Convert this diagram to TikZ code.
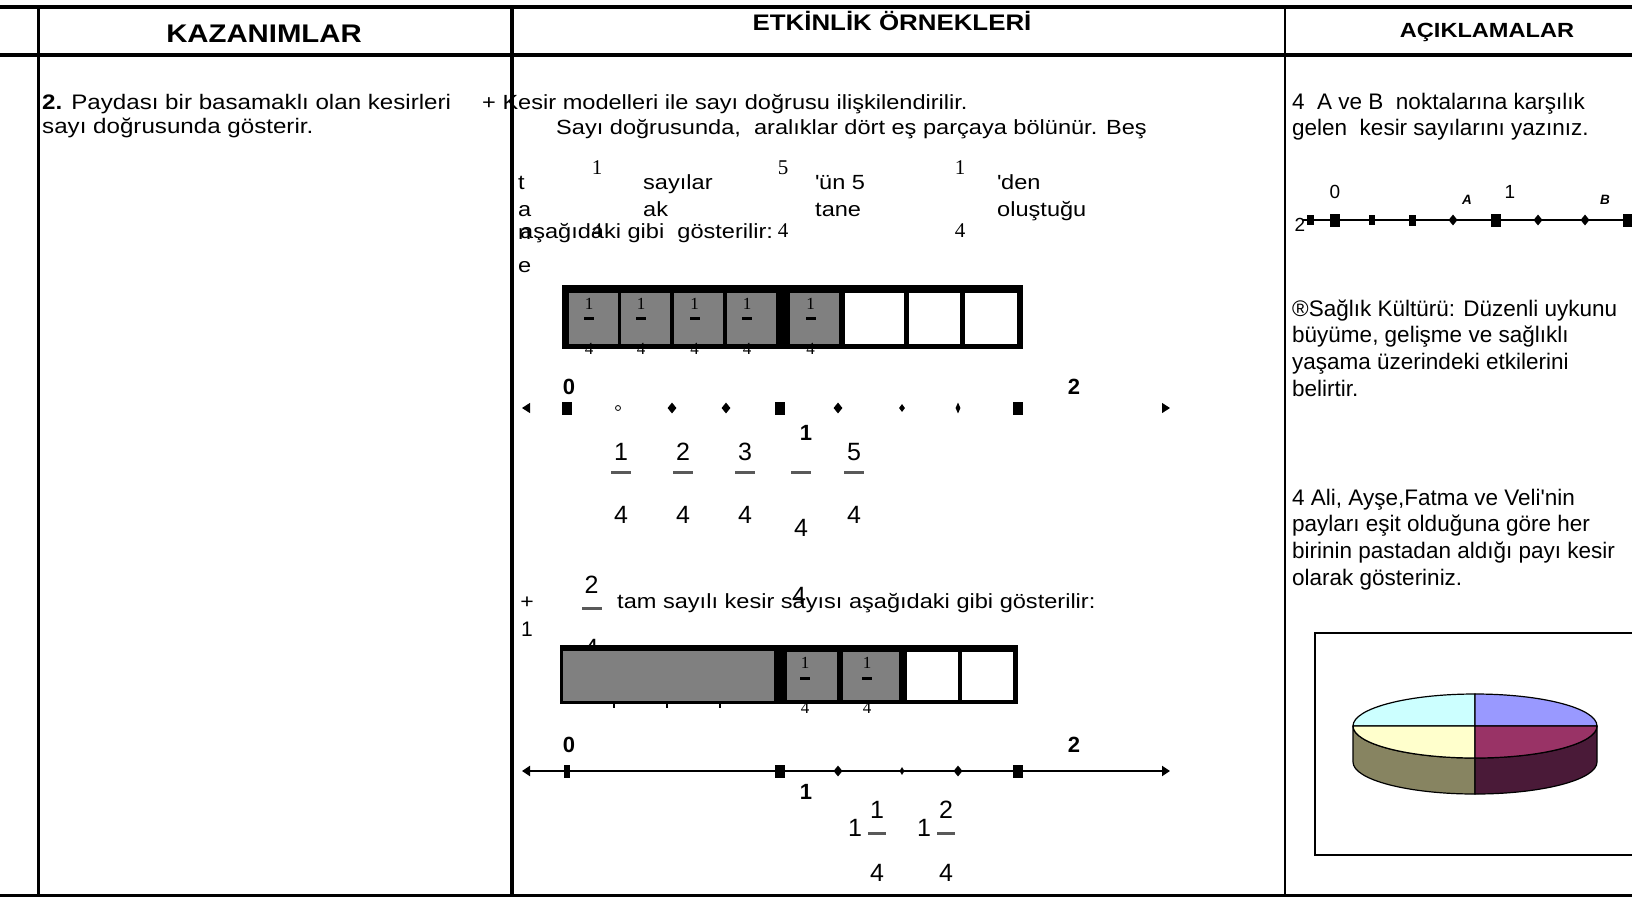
\documentclass[tikz,border=0pt]{standalone}
\usepackage{fontspec}
\setmainfont{Liberation Sans}
\newfontfamily\wfont[FakeStretch=1.15]{Liberation Sans}
\newfontfamily\serfont{Liberation Serif}
\usetikzlibrary{positioning, arrows.meta, shapes.geometric}

\definecolor{pieCyan}{HTML}{CCFFFF}
\definecolor{pieLilac}{HTML}{9999FF}
\definecolor{pieCream}{HTML}{FFFFCC}
\definecolor{pieWine}{HTML}{993366}
\definecolor{pieOlive}{HTML}{878461}
\definecolor{pieDark}{HTML}{4A1A38}

\begin{document}
\begin{tikzpicture} [
      x=1pt, y=-1pt,
      hdr/.style={anchor=base, inner sep=0},
      txt/.style={anchor=base west, inner sep=0, font=\wfont\fontsize{20.5}{24}\selectfont},
      rtxt/.style={anchor=base west, inner sep=0, font=\fontsize{22.5}{26}\selectfont},
      digit/.style={inner sep=0, font=\fontsize{25}{28}\selectfont},
      lbl/.style={inner sep=0, font=\bfseries\fontsize{22}{24}\selectfont},
      serdigit/.style={inner sep=0, font=\serfont\fontsize{21}{24}\selectfont},
      celldigit/.style={inner sep=0, font=\serfont\fontsize{17}{19}\selectfont},
      fbar/.style={fill=black!65, minimum width=20pt, minimum height=3pt, inner sep=0},
      sbar/.style={fill=black, minimum width=10pt, minimum height=3pt, inner sep=0},
      cell/.style={fill=gray, minimum width=49pt, minimum height=51pt, inner sep=0},
      blank/.style={cell, fill=white},
      bigmark/.style={fill, rectangle, minimum width=10pt, minimum height=13pt, inner sep=0},
      dotmark/.style={fill, diamond, minimum width=9pt, minimum height=11pt, inner sep=0},
      openmark/.style={draw, thick, circle, minimum size=5pt, inner sep=0},
      nlarrows/.style={arrows={Triangle[length=8pt, width=10pt, color=black, fill=black]-Triangle[length=8pt, width=10pt, color=black, fill=black]}}
   ]
    \useasboundingbox (0,0) rectangle (1632,898);

    % table
    \draw[line width=4pt] (0,7) -- (1632,7);
    \draw[line width=4.5pt] (0,55) -- (1632,55);
    \draw[line width=3pt] (0,895) -- (1632,895);
    \draw[line width=3pt] (38,7) -- (38,895);
    \draw[line width=4.5pt] (512,7) -- (512,895);
    \draw[line width=2.5pt] (1285,7) -- (1285,895);

    \node[hdr, font=\wfont\bfseries\fontsize{25.5}{28}\selectfont] (hKaz) at (264,42) {KAZANIMLAR};
    \node[hdr, font=\wfont\bfseries\fontsize{22.5}{24}\selectfont] (hEtk) at (892,30) {ETKİNLİK ÖRNEKLERİ};
    \node[hdr, font=\wfont\bfseries\fontsize{20.5}{24}\selectfont] (hAcik) at (1487,37) {AÇIKLAMALAR};

    % kazanim
    \node[txt, font=\wfont\fontsize{21}{24}\selectfont] (kaz1) at (42,109) {\textbf{2.} Paydası bir basamaklı olan kesirleri};
    \node[txt, font=\wfont\fontsize{21}{24}\selectfont] (kaz2) at (42,133) {sayı doğrusunda gösterir.};

    % etkinlik text
    \node[txt] (etk1) at (482,109) {+ Kesir modelleri ile sayı doğrusu ilişkilendirilir.};
    \node[txt] (etk2) at (556,134) {Sayı doğrusunda,~ aralıklar dört eş parçaya bölünür. Beş};
    \node[txt] (wT) at (518,189) {t};
    \node[txt] (wA) at (518,216) {a};
    \node[txt] (wN) at (518,239) {n};
    \node[txt] (wE) at (518,272) {e};
    \node[txt] (w2a) at (643,189) {sayılar};
    \node[txt] (w2b) at (643,216) {ak};
    \node[txt] (w3a) at (815,189) {\textquotesingle ün 5};
    \node[txt] (w3b) at (815,216) {tane};
    \node[txt] (w4a) at (997,189) {\textquotesingle den};
    \node[txt] (w4b) at (997,216) {oluştuğu};
    \node[txt] (w5) at (520,238) {aşağıdaki gibi~ gösterilir:};
    \node[serdigit] (q1n) at (597,168) {1};
    \node[serdigit, below of=q1n, node distance=63pt] (q1d) {4};
    \node[serdigit] (q2n) at (783,168) {5};
    \node[serdigit, below of=q2n, node distance=63pt] (q2d) {4};
    \node[serdigit] (q3n) at (960,168) {1};
    \node[serdigit, below of=q3n, node distance=63pt] (q3d) {4};

    % first model
    \fill (562,285) rectangle (1023,349);
    \node[cell] (c1) at (593,318.5) {};
    \node[cell, right of=c1, node distance=52pt] (c2) {};
    \node[cell, right of=c2, node distance=53.5pt] (c3) {};
    \node[cell, right of=c3, node distance=52.5pt] (c4) {};
    \node[cell, right of=c4, node distance=63.5pt] (c5) {};
    \node[blank, right of=c5, node distance=60pt, minimum width=59pt] (c6) {};
    \node[blank, right of=c6, node distance=59.5pt, minimum width=51pt] (c7) {};
    \node[blank, right of=c7, node distance=57pt, minimum width=52pt] (c8) {};

    \node[sbar, xshift=-4pt] (s1) at (c1) {};
    \node[celldigit, above of=s1, node distance=15pt] (s1n) {1};
    \node[celldigit, below of=s1, node distance=30pt] (s1d) {4};
    \node[sbar, xshift=-4pt] (s2) at (c2) {};
    \node[celldigit, above of=s2, node distance=15pt] (s2n) {1};
    \node[celldigit, below of=s2, node distance=30pt] (s2d) {4};
    \node[sbar, xshift=-4pt] (s3) at (c3) {};
    \node[celldigit, above of=s3, node distance=15pt] (s3n) {1};
    \node[celldigit, below of=s3, node distance=30pt] (s3d) {4};
    \node[sbar, xshift=-4pt] (s4) at (c4) {};
    \node[celldigit, above of=s4, node distance=15pt] (s4n) {1};
    \node[celldigit, below of=s4, node distance=30pt] (s4d) {4};
    \node[sbar, xshift=-4pt] (s5) at (c5) {};
    \node[celldigit, above of=s5, node distance=15pt] (s5n) {1};
    \node[celldigit, below of=s5, node distance=30pt] (s5d) {4};

    % first number line
    \coordinate (l1a) at (522,408);
    \coordinate (l1b) at (1170,408);
    \draw[white, line width=1pt, nlarrows] (l1a) -- (l1b);
    \node[bigmark] (m0) at (567,408) {};
    \node[openmark, right of=m0, node distance=51pt] (m1) {};
    \node[dotmark, right of=m1, node distance=54pt] (m2) {};
    \node[dotmark, right of=m2, node distance=54pt] (m3) {};
    \node[bigmark, right of=m3, node distance=54pt] (m4) {};
    \node[dotmark, right of=m4, node distance=58pt] (m5) {};
    \node[dotmark, right of=m5, node distance=64pt, minimum width=6pt, minimum height=8pt] (m6) {};
    \node[dotmark, right of=m6, node distance=56pt, minimum width=5pt] (m7) {};
    \node[bigmark, right of=m7, node distance=60pt] (m8) {};
    \node[lbl] (z0) at (569,387) {0};
    \node[lbl] (z2) at (1074,387) {2};
    \node[lbl] (z1) at (806,433) {1};

    \node[digit] (f1n) at (621,452) {1};
    \node[fbar, below of=f1n, node distance=20pt] (f1b) {};
    \node[digit, below of=f1b, node distance=43pt] (f1d) {4};
    \node[digit] (f2n) at (683,452) {2};
    \node[fbar, below of=f2n, node distance=20pt] (f2b) {};
    \node[digit, below of=f2b, node distance=43pt] (f2d) {4};
    \node[digit] (f3n) at (745,452) {3};
    \node[fbar, below of=f3n, node distance=20pt] (f3b) {};
    \node[digit, below of=f3b, node distance=43pt] (f3d) {4};
    \node[fbar] (f4b) at (801,472) {};
    \node[digit, below of=f4b, node distance=56pt] (f4d) {4};
    \node[digit] (f5n) at (854,452) {5};
    \node[fbar, below of=f5n, node distance=20pt] (f5b) {};
    \node[digit, below of=f5b, node distance=43pt] (f5d) {4};

    % mixed number
    \node[inner sep=0, font=\wfont\fontsize{20}{24}\selectfont] (plus) at (527,603) {+};
    \node[inner sep=0, font=\fontsize{21}{24}\selectfont] (one) at (527,629) {1};
    \node[digit] (h1n) at (591.5,585) {2};
    \node[fbar, below of=h1n, node distance=23pt] (h1b) {};
    \node[digit, below of=h1b, node distance=40pt] (h1d) {4};
    \node[txt] (etk3) at (617,608) {tam sayılı kesir sayısı aşağıdaki gibi gösterilir:};
    \node[digit] (h2) at (799,596) {4};

    % second model
    \fill (560,645) rectangle (1018,704);
    \node[cell, minimum width=211pt, minimum height=50pt] (d1) at (668,676) {};
    \node[cell, right of=d1, node distance=144pt, minimum width=50pt, minimum height=48pt] (d2) {};
    \node[cell, right of=d2, node distance=59pt, minimum width=56pt, minimum height=48pt] (d3) {};
    \node[blank, right of=d3, node distance=61.5pt, minimum width=51pt, minimum height=48pt] (d4) {};
    \node[blank, right of=d4, node distance=55pt, minimum width=51pt, minimum height=48pt] (d5) {};
    \draw[line width=1.5pt] (614,704) -- (614,708) (667,704) -- (667,708) (720,704) -- (720,708);

    \node[sbar] (t1) at (805,678) {};
    \node[celldigit, above of=t1, node distance=15pt] (t1n) {1};
    \node[celldigit, below of=t1, node distance=30pt] (t1d) {4};
    \node[sbar] (t2) at (867,678) {};
    \node[celldigit, above of=t2, node distance=15pt] (t2n) {1};
    \node[celldigit, below of=t2, node distance=30pt] (t2d) {4};

    % second number line
    \coordinate (l2a) at (522,771);
    \coordinate (l2b) at (1170,771);
    \draw[line width=2pt, nlarrows] (l2a) -- (l2b);
    \node[bigmark, minimum width=6pt] (n0) at (567,771) {};
    \node[bigmark, right of=n0, node distance=213pt] (n1) {};
    \node[dotmark, right of=n1, node distance=58pt] (n2) {};
    \node[dotmark, right of=n2, node distance=64pt, minimum width=5pt, minimum height=8pt] (n3) {};
    \node[dotmark, right of=n3, node distance=56pt] (n4) {};
    \node[bigmark, right of=n4, node distance=60pt] (n5) {};
    \node[lbl] (y0) at (569,745) {0};
    \node[lbl] (y2) at (1074,745) {2};
    \node[lbl] (y1) at (806,792) {1};

    \node[digit] (g1w) at (855,828) {1};
    \node[digit] (g1n) at (877,810) {1};
    \node[fbar, below of=g1n, node distance=23pt, minimum width=18pt] (g1b) {};
    \node[digit, below of=g1b, node distance=40pt] (g1d) {4};
    \node[digit] (g2w) at (924,828) {1};
    \node[digit] (g2n) at (946,810) {2};
    \node[fbar, below of=g2n, node distance=23pt, minimum width=18pt] (g2b) {};
    \node[digit, below of=g2b, node distance=40pt] (g2d) {4};

    % aciklamalar
    \node[rtxt] (ac1) at (1292,109) {4~ A ve B~ noktalarına karşılık};
    \node[rtxt] (ac2) at (1292,135) {gelen~ kesir sayılarını yazınız.};

    \coordinate (r0) at (1303,220);
    \coordinate (rEnd) at (1640,220);
    \draw[line width=2pt] (r0) -- (rEnd);
    \node[bigmark, minimum width=7pt, minimum height=10pt] (p0) at (1310,220) {};
    \node[bigmark, right of=p0, node distance=25pt] (p1) {};
    \node[bigmark, right of=p1, node distance=37pt, minimum width=6pt, minimum height=10pt] (p2) {};
    \node[bigmark, right of=p2, node distance=40pt, minimum width=7pt, minimum height=11pt] (p3) {};
    \node[dotmark, right of=p3, node distance=41pt] (p4) {};
    \node[bigmark, right of=p4, node distance=43pt] (p5) {};
    \node[dotmark, right of=p5, node distance=42pt] (p6) {};
    \node[dotmark, right of=p6, node distance=47pt] (p7) {};
    \node[bigmark, right of=p7, node distance=43pt] (p8) {};
    \node[inner sep=0, font=\fontsize{19}{21}\selectfont] (x0) at (1335,192) {0};
    \node[inner sep=0, font=\fontsize{19}{21}\selectfont] (x1) at (1510,192) {1};
    \node[inner sep=0, font=\fontsize{19}{21}\selectfont] (x2) at (1300,225) {2};
    \node[inner sep=0, font=\bfseries\itshape\fontsize{13.5}{15}\selectfont] (xA) at (1467,200) {A};
    \node[inner sep=0, font=\bfseries\itshape\fontsize{13.5}{15}\selectfont] (xB) at (1605,200) {B};

    \node[rtxt] (ac3) at (1292,316) {®Sağlık Kültürü: Düzenli uykunu};
    \node[rtxt] (ac4) at (1292,342) {büyüme, gelişme ve sağlıklı};
    \node[rtxt] (ac5) at (1292,369) {yaşama üzerindeki etkilerini};
    \node[rtxt] (ac6) at (1292,396) {belirtir.};
    \node[rtxt] (ac7) at (1292,505) {4 Ali, Ayşe,Fatma ve Veli\textquotesingle nin};
    \node[rtxt] (ac8) at (1292,531) {payları eşit olduğuna göre her};
    \node[rtxt] (ac9) at (1292,558) {birinin pastadan aldığı payı kesir};
    \node[rtxt] (ac10) at (1292,585) {olarak gösteriniz.};

    % pie
    \draw[line width=1.5pt] (1315,633) rectangle (1645,855);
    \coordinate (pc) at (1475,726);
    \filldraw[fill=pieOlive, line width=1.2pt] (1353,726) -- (1353,762)
      arc[start angle=180, end angle=270, x radius=122pt, y radius=32pt] -- (1475,758)
      arc[start angle=270, end angle=180, x radius=122pt, y radius=32pt] -- cycle;
    \filldraw[fill=pieDark, line width=1.2pt] (1475,758) -- (1475,794)
      arc[start angle=270, end angle=360, x radius=122pt, y radius=32pt] -- (1597,726)
      arc[start angle=0, end angle=-90, x radius=122pt, y radius=32pt] -- cycle;
    \filldraw[fill=pieCyan, line width=1.2pt] (pc) -- (1353,726)
      arc[start angle=180, end angle=90, x radius=122pt, y radius=32pt] -- cycle;
    \filldraw[fill=pieLilac, line width=1.2pt] (pc) -- (1475,694)
      arc[start angle=90, end angle=0, x radius=122pt, y radius=32pt] -- cycle;
    \filldraw[fill=pieCream, line width=1.2pt] (pc) -- (1353,726)
      arc[start angle=180, end angle=270, x radius=122pt, y radius=32pt] -- cycle;
    \filldraw[fill=pieWine, line width=1.2pt] (pc) -- (1597,726)
      arc[start angle=360, end angle=270, x radius=122pt, y radius=32pt] -- cycle;

  \end{tikzpicture}
\end{document}
